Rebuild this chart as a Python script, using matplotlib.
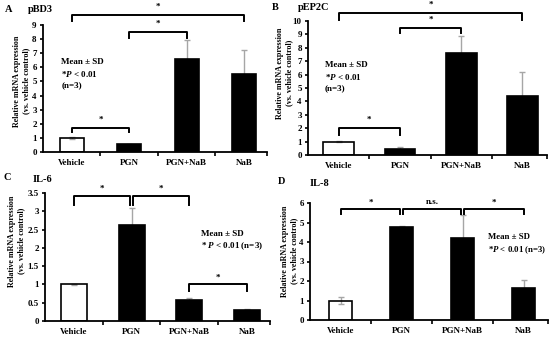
"""
Relative mRNA expression of pBD3, pEP2C, IL-6 and IL-8 (four bar panels).
"""

import matplotlib

matplotlib.use("Agg")
import matplotlib.pyplot as plt
import numpy as np

plt.rcParams["font.family"] = ["Liberation Serif", "DejaVu Serif"]
plt.rcParams["font.weight"] = "bold"
plt.rcParams["mathtext.fontset"] = "custom"
plt.rcParams["mathtext.rm"] = "Liberation Serif:bold"
plt.rcParams["mathtext.it"] = "Liberation Serif:italic:bold"

FIG_W, FIG_H = 550, 337

categories = ["Vehicle", "PGN", "PGN+NaB", "NaB"]
# vehicle bar is open (white page shows through), treatments are filled
bar_faces = ["none", "black", "black", "black"]

pbd3_mean = [1.0, 0.55, 6.6, 5.55]
pbd3_sd = [0.05, 0.05, 1.35, 1.7]

pep2c_mean = [1.0, 0.45, 7.6, 4.42]
pep2c_sd = [0.02, 0.18, 1.3, 1.75]

il6_mean = [1.0, 2.62, 0.57, 0.3]
il6_sd = [0.01, 0.48, 0.07, 0.02]

il8_mean = [1.0, 4.77, 4.18, 1.62]
il8_sd = [0.2, 0.05, 1.18, 0.42]

# (left bar, right bar, bracket height, tick drop, label, label height)
pbd3_brackets = [(0, 1, 1.7, 0.3, "*", 2.0), (1, 2, 8.5, 0.4, "*", 8.8),
                 (0, 3, 9.7, 0.45, "*", 10.0)]
pep2c_brackets = [(0, 1, 2.0, 0.5, "*", 2.3), (1, 2, 9.5, 0.4, "*", 9.8),
                  (0, 3, 10.6, 0.5, "*", 10.9)]
il6_brackets = [(0, 0.97, 3.42, 0.24, "*", 3.5), (1.03, 2, 3.42, 0.24, "*", 3.5),
                (2, 3, 1.0, 0.17, "*", 1.08)]
il8_brackets = [(0, 0.98, 5.71, 0.25, "*", 5.83), (1.02, 1.98, 5.71, 0.25, "n.s.", 5.83),
                (2.02, 3, 5.71, 0.25, "*", 5.83)]

YLABEL = "Relative mRNA expression\n(vs. vehicle control)"


def px_rect(left, top, right, bottom):
    return [left / FIG_W, 1 - bottom / FIG_H, (right - left) / FIG_W, (bottom - top) / FIG_H]


def draw_panel(ax, means, sds, ymax, ystep, width, brackets):
    x = np.arange(len(categories))
    # error bars sit behind the bars, so filled bars hide the lower half
    ax.errorbar(x, means, yerr=sds, fmt="none", ecolor="#a6a6a6",
                elinewidth=1.0, capsize=2, capthick=1.0, zorder=1)
    ax.bar(x, means, width=width, color=bar_faces, edgecolor="black",
           linewidth=1.2, zorder=2)

    for i, j, y, drop, label, ly in brackets:
        ax.plot([i, i, j, j], [y - drop, y, y, y - drop], color="black",
                linewidth=1.4, clip_on=False, zorder=4)
        ax.text((i + j) / 2, ly, label, ha="center", va="bottom", fontsize=6.5,
                fontweight="bold")

    ax.set_xlim(-0.5, 3.4)
    ax.set_ylim(0, ymax)
    ticks = np.arange(0, ymax + ystep / 2, ystep)
    ax.set_yticks(ticks)
    ax.set_yticklabels([f"{t:g}" for t in ticks], fontsize=6.5, fontweight="bold")
    ax.set_xticks(x)
    ax.set_xticklabels(categories, fontsize=6.5, fontweight="bold")
    ax.set_xticks([0.5, 1.5, 2.5, 3.4], minor=True)
    ax.tick_params(axis="x", which="major", length=0, pad=5)
    ax.tick_params(axis="x", which="minor", length=3, width=1.2, direction="out")
    ax.tick_params(axis="y", length=2.5, width=1.2, direction="out", pad=2)
    for side in ("top", "right"):
        ax.spines[side].set_visible(False)
    for side in ("left", "bottom"):
        ax.spines[side].set_linewidth(1.3)


fig = plt.figure(figsize=(FIG_W / 100, FIG_H / 100), dpi=100)

ax_a = fig.add_axes(px_rect(43, 25, 267, 152))
draw_panel(ax_a, pbd3_mean, pbd3_sd, 9, 1, 0.42, pbd3_brackets)
ax_a.text(-0.18, 6.65, "Mean ± SD\n*$\\it{P}$ < 0.01\n(n=3)", fontsize=6.5,
          fontweight="bold", va="top", linespacing=1.35)

ax_b = fig.add_axes(px_rect(308, 21, 547, 155))
draw_panel(ax_b, pep2c_mean, pep2c_sd, 10, 1, 0.5, pep2c_brackets)
ax_b.text(-0.23, 7.0, "Mean ± SD\n*$\\it{P}$ < 0.01\n(n=3)", fontsize=6.5,
          fontweight="bold", va="top", linespacing=1.35)

ax_c = fig.add_axes(px_rect(45, 193, 270, 321))
draw_panel(ax_c, il6_mean, il6_sd, 3.5, 0.5, 0.45, il6_brackets)
ax_c.text(2.2, 2.5, "Mean ± SD\n* $\\it{P}$ < 0.01 (n=3)", fontsize=6.5,
          fontweight="bold", va="top", linespacing=1.35)

ax_d = fig.add_axes(px_rect(310, 203, 548, 320))
draw_panel(ax_d, il8_mean, il8_sd, 6, 1, 0.37, il8_brackets)
ax_d.text(2.42, 4.45, "Mean ± SD\n*$\\it{P}$ < 0.01 (n=3)", fontsize=6.3,
          fontweight="bold", va="top", linespacing=1.35)

# panel letters, titles and y labels (pixel positions)
for letter, title, lx, ly, tx, ty in [("A", "pBD3", 5, 9, 28, 10),
                                      ("B", "pEP2C", 272, 8, 298, 8),
                                      ("C", "IL-6", 4, 178, 33, 180),
                                      ("D", "IL-8", 278, 182, 310, 184)]:
    fig.text(lx / FIG_W, 1 - ly / FIG_H, letter, fontsize=7.5, fontweight="bold",
             va="center")
    fig.text(tx / FIG_W, 1 - ty / FIG_H, title, fontsize=7.5, fontweight="bold",
             va="center")

for cx, cy in [(22, 81), (285, 73), (17, 241), (290, 251)]:
    fig.text(cx / FIG_W, 1 - cy / FIG_H, YLABEL, rotation=90, fontsize=5.8,
             fontweight="bold", ha="center", va="center", multialignment="center")

fig.savefig("out.png", dpi=100)
